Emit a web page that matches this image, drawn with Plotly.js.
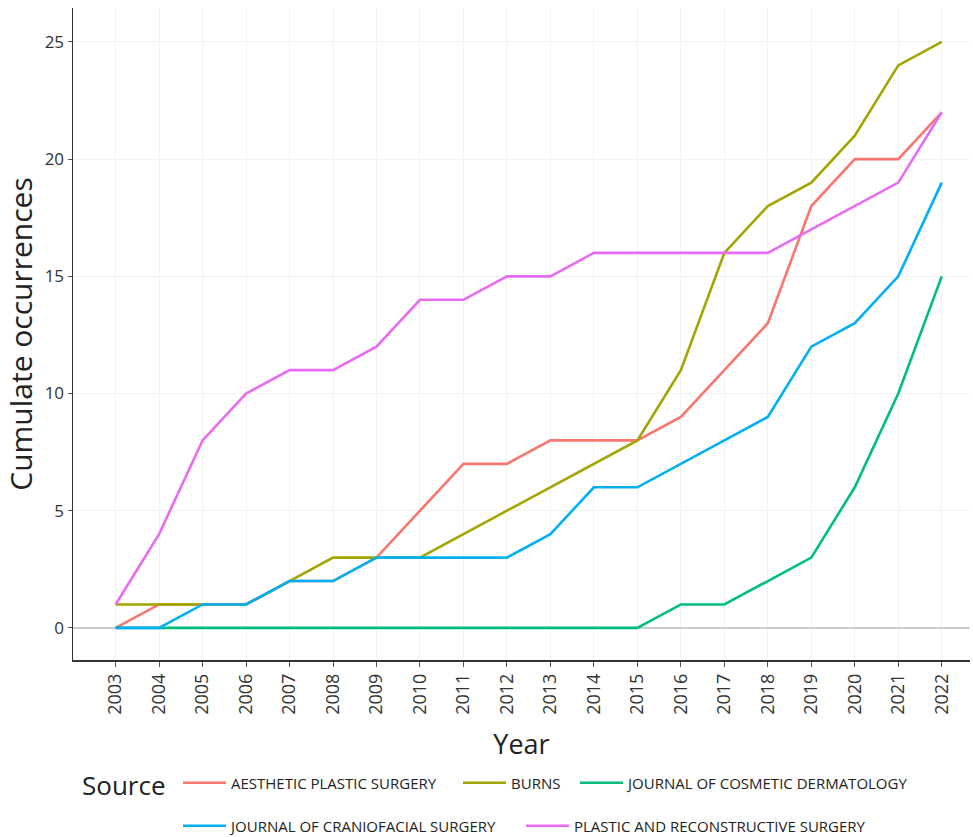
<!DOCTYPE html>
<html>
<head>
<meta charset="utf-8">
<script src="https://cdn.plot.ly/plotly-3.0.1.min.js"></script>
<style>html,body{margin:0;padding:0;background:#fff;}#chart{width:973px;height:837px;}</style>
</head>
<body>
<div id="chart"></div>
<script>
const years = [2003,2004,2005,2006,2007,2008,2009,2010,2011,2012,2013,2014,2015,2016,2017,2018,2019,2020,2021,2022];
const aesthetic = [0,1,1,1,2,2,3,5,7,7,8,8,8,9,11,13,18,20,20,22];
const burns = [1,1,1,1,2,3,3,3,4,5,6,7,8,11,16,18,19,21,24,25];
const cosmeticDerm = [0,0,0,0,0,0,0,0,0,0,0,0,0,1,1,2,3,6,10,15];
const craniofacial = [0,0,1,1,2,2,3,3,3,3,4,6,6,7,8,9,12,13,15,19];
const plasticRecon = [1,4,8,10,11,11,12,14,14,15,15,16,16,16,16,16,17,18,19,22];
const seriesNames = ["AESTHETIC PLASTIC SURGERY","BURNS","JOURNAL OF COSMETIC DERMATOLOGY","JOURNAL OF CRANIOFACIAL SURGERY","PLASTIC AND RECONSTRUCTIVE SURGERY"];
const seriesColors = ["#F8766D","#A3A500","#00BF7D","#00B0F6","#E76BF3"];
const seriesData = [aesthetic, burns, cosmeticDerm, craniofacial, plasticRecon];
const legendIds = ["legend","legend2","legend3","legend4","legend5"];
// legend item placement (pixels in the page): line start x, row centre y
const legendPos = [[184,783],[464,783],[581,783],[184,826],[527,826]];

const traces = seriesData.map((ys, i) => ({
  x: years, y: ys, type: "scatter", mode: "lines", name: seriesNames[i],
  line: {color: seriesColors[i], width: 2.6},
  legend: legendIds[i]
}));

const W = 973, H = 837;
const font = "'Open Sans', 'Noto Sans', sans-serif";
const layout = {
  width: W, height: H,
  margin: {l: 73, r: 3, t: 8, b: 177},
  paper_bgcolor: "#fff", plot_bgcolor: "#fff",
  font: {family: font, color: "#333"},
  showlegend: true,
  xaxis: {
    range: [2002.02, 2022.65],
    tickvals: years, ticktext: years.map(String),
    tickangle: -90, tickfont: {size: 18, color: "#333"},
    ticks: "outside", ticklen: 5, tickcolor: "#555",
    showline: true, linecolor: "#333", linewidth: 1.5,
    showgrid: true, gridcolor: "#f2f2f2", gridwidth: 1,
    zeroline: false,
    title: {text: "Year", font: {size: 27, color: "#222"}, standoff: 21}
  },
  yaxis: {
    range: [-1.37, 26.45],
    tickvals: [0,5,10,15,20,25],
    tickfont: {size: 17, color: "#333"},
    ticks: "outside", ticklen: 4, tickcolor: "#555",
    showline: true, linecolor: "#333", linewidth: 1.5,
    showgrid: true, gridcolor: "#f2f2f2", gridwidth: 1,
    zeroline: true, zerolinecolor: "#cccccc", zerolinewidth: 1.5,
    title: {text: "Cumulate occurrences", font: {size: 30, color: "#222"}, standoff: 12}
  },
  annotations: [{
    text: "Source", xref: "paper", yref: "paper",
    x: (80 - 73) / 897, xanchor: "left", y: (660 - 785) / 652, yanchor: "middle",
    showarrow: false, font: {size: 26, color: "#222"}
  }]
};
legendIds.forEach((id, i) => {
  layout[id] = {
    orientation: "h", xref: "container", yref: "container",
    x: (legendPos[i][0] - 6) / W, xanchor: "left",
    y: (H - legendPos[i][1]) / H, yanchor: "middle",
    font: {size: 15, color: "#222"}, bgcolor: "rgba(0,0,0,0)", itemwidth: 43
  };
});
Plotly.newPlot("chart", traces, layout, {displayModeBar: false, staticPlot: true});
</script>
</body>
</html>
